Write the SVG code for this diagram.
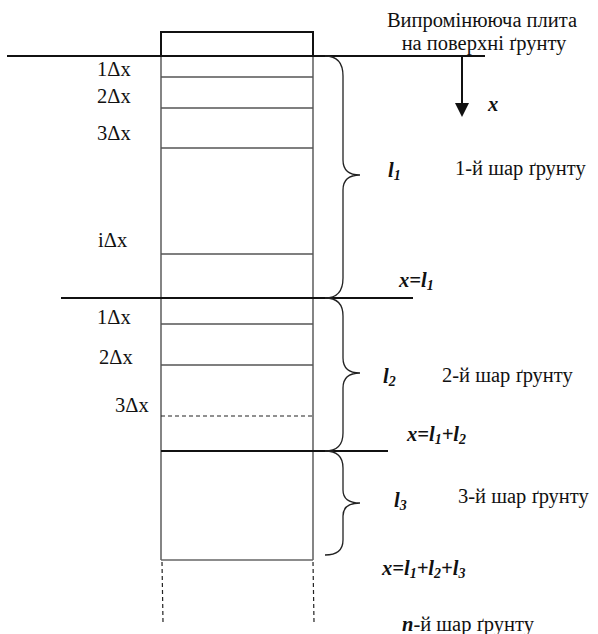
<svg xmlns="http://www.w3.org/2000/svg" width="598" height="634" viewBox="0 0 598 634" font-family="'Liberation Serif', 'DejaVu Serif', serif">
  <style>
    text { font-family: 'Liberation Serif', 'DejaVu Serif', serif; font-size: 20.5px; fill: #111; }
    .bi { font-weight: bold; font-style: italic; }
    .sub { font-size: 14px; }
    .col { stroke: #666; stroke-width: 1.6; fill: none; }
    .cell { stroke: #555; stroke-width: 1.3; }
    .bold { stroke: #111; stroke-width: 2; }
    .dash { stroke: #222; stroke-width: 1.2; stroke-dasharray: 4 3; }
    .brace { stroke: #222; stroke-width: 1.3; fill: none; }
  </style>

  <!-- soil column -->
  <g id="column">
    <line class="col" x1="161" y1="56" x2="161" y2="560"/>
    <line class="col" x1="313" y1="56" x2="313" y2="560"/>
    <line class="col" x1="161" y1="560" x2="313" y2="560"/>
  </g>

  <!-- radiating plate on the surface -->
  <g id="plate">
    <rect x="161" y="32" width="152" height="24" fill="none" stroke="#111" stroke-width="2"/>
    <text x="482" y="27" text-anchor="middle">Випромінююча плита</text>
    <text x="484" y="50" text-anchor="middle">на поверхні ґрунту</text>
  </g>

  <!-- boundaries -->
  <g id="boundaries">
    <line class="bold" x1="7" y1="56" x2="485" y2="56"/>
    <line class="bold" x1="61" y1="298" x2="413" y2="298"/>
    <line class="bold" x1="161" y1="451" x2="388" y2="451"/>
  </g>

  <!-- layer 1 cells -->
  <g id="layer1">
    <line class="cell" x1="161" y1="77" x2="313" y2="77"/>
    <line class="cell" x1="161" y1="108" x2="313" y2="108"/>
    <line class="cell" x1="161" y1="148" x2="313" y2="148"/>
    <line class="cell" x1="161" y1="254" x2="313" y2="254"/>
    <text x="97" y="76">1Δx</text>
    <text x="97" y="103">2Δx</text>
    <text x="97" y="140">3Δx</text>
    <text x="98" y="247">iΔx</text>
    <text x="455" y="175">1-й шар ґрунту</text>
  </g>

  <!-- layer 2 cells -->
  <g id="layer2">
    <line class="cell" x1="161" y1="324" x2="313" y2="324"/>
    <line class="cell" x1="161" y1="365" x2="313" y2="365"/>
    <line class="dash" x1="161" y1="416" x2="313" y2="416"/>
    <text x="97" y="324">1Δx</text>
    <text x="99" y="364">2Δx</text>
    <text x="115" y="412">3Δx</text>
    <text x="442" y="382">2-й шар ґрунту</text>
  </g>

  <!-- layer 3 -->
  <g id="layer3">
    <text x="458" y="503">3-й шар ґрунту</text>
  </g>

  <!-- layer n -->
  <g id="layern">
    <line class="dash" x1="162" y1="562" x2="163" y2="622"/>
    <line class="dash" x1="313" y1="562" x2="314" y2="622"/>
    <text x="402" y="631"><tspan class="bi">n</tspan>-й шар ґрунту</text>
  </g>

  <!-- depth axis -->
  <g id="axis">
    <line x1="462" y1="56" x2="462" y2="104" stroke="#111" stroke-width="2"/>
    <polygon points="455,103 469,103 462,117" fill="#111"/>
    <text class="bi" x="488" y="111">x</text>
  </g>

  <!-- braces and layer thicknesses -->
  <g id="braces">
    <path class="brace" d="M325,56 Q343,56 343,76 L343,160 Q343,175 360,175 Q343,175 343,190 L343,278 Q343,298 325,298"/>
    <path class="brace" d="M325,298 Q343,298 343,316 L343,358 Q343,373 360,373 Q343,373 343,388 L343,433 Q343,451 325,451"/>
    <path class="brace" d="M325,451 Q343,451 343,468 L343,490 Q343,503 360,503 Q343,503 343,516 L343,540 Q343,555 325,555"/>
    <text class="bi" x="388" y="177">l<tspan class="sub" dy="3">1</tspan></text>
    <text class="bi" x="383" y="383">l<tspan class="sub" dy="3">2</tspan></text>
    <text class="bi" x="394" y="507">l<tspan class="sub" dy="3">3</tspan></text>
    <text class="bi" x="399" y="287">x=l<tspan class="sub" dy="3">1</tspan></text>
    <text class="bi" x="407" y="441">x=l<tspan class="sub" dy="3">1</tspan><tspan dy="-3">+l</tspan><tspan class="sub" dy="3">2</tspan></text>
    <text class="bi" x="382" y="575">x=l<tspan class="sub" dy="3">1</tspan><tspan dy="-3">+l</tspan><tspan class="sub" dy="3">2</tspan><tspan dy="-3">+l</tspan><tspan class="sub" dy="3">3</tspan></text>
  </g>
</svg>
